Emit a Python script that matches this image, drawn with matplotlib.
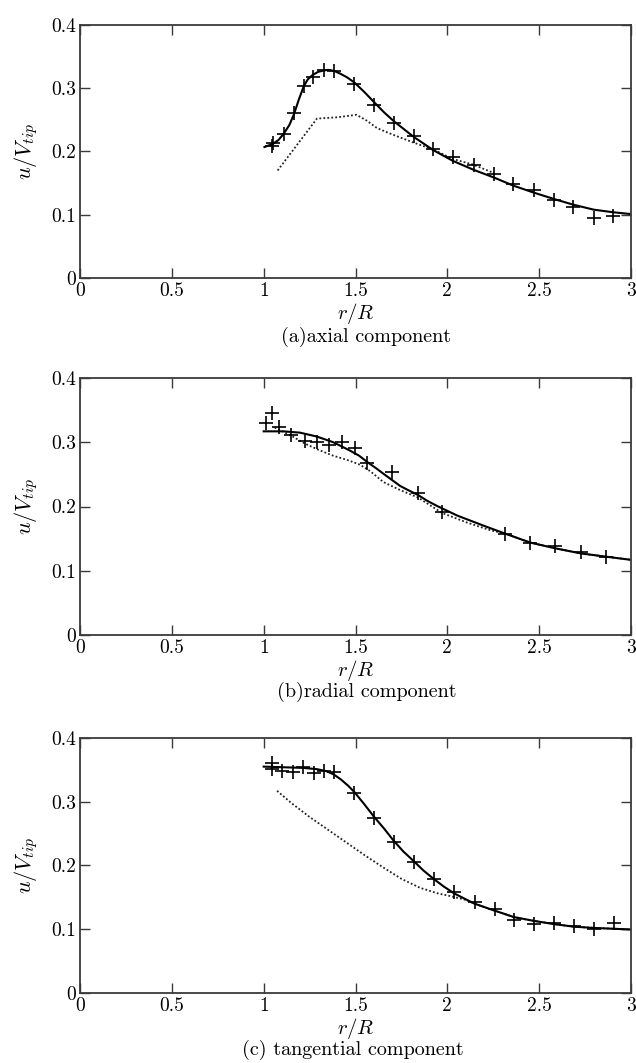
#!/usr/bin/env python3
"""Velocity profiles behind the rotor tip: axial, radial and tangential components."""

import matplotlib

matplotlib.use("Agg")
import matplotlib.pyplot as plt

plt.rcParams["font.family"] = "serif"
plt.rcParams["font.serif"] = ["cmr10"]
plt.rcParams["mathtext.fontset"] = "cm"
plt.rcParams["axes.formatter.use_mathtext"] = True

# (a) axial component
axial_exp_r = [1.045, 1.051, 1.109, 1.165, 1.218, 1.267, 1.327, 1.381, 1.494, 1.601, 1.708,
               1.817, 1.924, 2.031, 2.143, 2.252, 2.359, 2.470, 2.579, 2.684, 2.797, 2.902]
axial_exp_u = [0.209, 0.213, 0.227, 0.261, 0.303, 0.318, 0.329, 0.327, 0.307, 0.274, 0.245,
               0.225, 0.204, 0.192, 0.178, 0.164, 0.148, 0.139, 0.124, 0.112, 0.095, 0.098]
axial_calc_r = [1.004, 1.050, 1.080, 1.109, 1.140, 1.165, 1.190, 1.218, 1.240, 1.267, 1.297,
                1.327, 1.350, 1.372, 1.395, 1.417, 1.455, 1.494, 1.548, 1.601, 1.655, 1.708,
                1.817, 1.924, 2.031, 2.143, 2.252, 2.359, 2.470, 2.579, 2.684, 2.797, 2.900,
                3.000]
axial_calc_u = [0.207, 0.212, 0.218, 0.228, 0.242, 0.259, 0.281, 0.303, 0.314, 0.321, 0.326,
                0.328, 0.329, 0.328, 0.326, 0.323, 0.317, 0.309, 0.294, 0.278, 0.262, 0.248,
                0.223, 0.202, 0.185, 0.171, 0.159, 0.146, 0.135, 0.125, 0.116, 0.108, 0.104,
                0.101]
axial_model_r = [1.076, 1.290, 1.400, 1.505, 1.560, 1.617, 1.708, 1.817, 1.924, 2.031, 2.143,
                 2.252]
axial_model_u = [0.170, 0.252, 0.254, 0.258, 0.249, 0.237, 0.226, 0.214, 0.203, 0.188, 0.179,
                 0.166]

# (b) radial component
radial_exp_r = [1.015, 1.047, 1.084, 1.151, 1.224, 1.291, 1.357, 1.426, 1.497, 1.565, 1.698,
                1.840, 1.971, 2.313, 2.450, 2.587, 2.727, 2.863]
radial_exp_u = [0.330, 0.345, 0.324, 0.312, 0.302, 0.300, 0.295, 0.301, 0.291, 0.268, 0.254,
                0.221, 0.192, 0.158, 0.143, 0.138, 0.129, 0.122]
radial_calc_r = [1.000, 1.106, 1.197, 1.288, 1.379, 1.470, 1.520, 1.565, 1.610, 1.652, 1.700,
                 1.743, 1.790, 1.840, 1.890, 1.943, 2.053, 2.199, 2.313, 2.450, 2.587, 2.727,
                 2.863, 3.000]
radial_calc_u = [0.317, 0.317, 0.315, 0.309, 0.300, 0.287, 0.279, 0.269, 0.260, 0.251, 0.241,
                 0.232, 0.225, 0.218, 0.209, 0.201, 0.186, 0.170, 0.158, 0.144, 0.135, 0.127,
                 0.122, 0.117]
radial_model_r = [1.060, 1.151, 1.224, 1.300, 1.379, 1.460, 1.525, 1.580, 1.652, 1.740, 1.840,
                  1.971, 2.107, 2.235, 2.313, 2.450, 2.587, 2.727, 2.863, 3.000]
radial_model_u = [0.323, 0.310, 0.298, 0.288, 0.279, 0.272, 0.265, 0.255, 0.238, 0.226, 0.214,
                  0.190, 0.175, 0.163, 0.158, 0.144, 0.135, 0.127, 0.122, 0.117]

# (c) tangential component
tang_exp_r = [1.047, 1.047, 1.102, 1.157, 1.215, 1.273, 1.328, 1.383, 1.494, 1.599, 1.707,
              1.816, 1.925, 2.038, 2.148, 2.259, 2.362, 2.472, 2.581, 2.687, 2.796, 2.909]
tang_exp_u = [0.361, 0.351, 0.348, 0.347, 0.355, 0.345, 0.348, 0.346, 0.314, 0.274, 0.2375,
              0.206, 0.178, 0.159, 0.142, 0.131, 0.114, 0.108, 0.110, 0.105, 0.100, 0.109]
tang_calc_r = [1.000, 1.106, 1.215, 1.290, 1.340, 1.380, 1.420, 1.460, 1.494, 1.545, 1.599,
               1.655, 1.707, 1.760, 1.816, 1.870, 1.925, 1.980, 2.038, 2.148, 2.259, 2.362,
               2.472, 2.581, 2.687, 2.796, 3.000]
tang_calc_u = [0.355, 0.354, 0.353, 0.351, 0.348, 0.343, 0.335, 0.325, 0.315, 0.297, 0.277,
               0.258, 0.239, 0.222, 0.207, 0.192, 0.179, 0.167, 0.156, 0.140, 0.129, 0.119,
               0.113, 0.108, 0.104, 0.102, 0.0995]
tang_model_r = [1.073, 1.150, 1.250, 1.350, 1.450, 1.550, 1.650, 1.750, 1.850, 1.950, 2.000,
                2.100, 2.148, 2.259, 2.362, 2.472, 2.581, 2.687, 2.796, 3.000]
tang_model_u = [0.317, 0.298, 0.276, 0.256, 0.236, 0.216, 0.197, 0.179, 0.165, 0.156, 0.153,
                0.146, 0.140, 0.129, 0.119, 0.113, 0.108, 0.104, 0.102, 0.0995]

captions = ["(a)axial component", "(b)radial component", "(c) tangential component"]
x_ticks = [0, 0.5, 1, 1.5, 2, 2.5, 3]
x_ticklabels = ["0", "0.5", "1", "1.5", "2", "2.5", "3"]
y_ticks = [0, 0.1, 0.2, 0.3, 0.4]
y_ticklabels = ["0", "0.1", "0.2", "0.3", "0.4"]

panels = [
    (axial_exp_r, axial_exp_u, axial_calc_r, axial_calc_u, axial_model_r, axial_model_u),
    (radial_exp_r, radial_exp_u, radial_calc_r, radial_calc_u, radial_model_r, radial_model_u),
    (tang_exp_r, tang_exp_u, tang_calc_r, tang_calc_u, tang_model_r, tang_model_u),
]

# axes boxes in figure fractions: (left, bottom, width, height)
boxes = [
    (0.1258, 0.7385, 0.8664, 0.2380),
    (0.1258, 0.4026, 0.8664, 0.2418),
    (0.1258, 0.0659, 0.8664, 0.2399),
]
xlabel_y = [0.7055, 0.3697, 0.0329]
caption_pos = [(0.5755, 0.6830), (0.577, 0.3490), (0.555, 0.0122)]

frame_color = "#3a3a3a"

fig = plt.figure(figsize=(6.36, 10.63), dpi=100)

for box, (er, eu, cr, cu, mr, mu), xly, cap, cpos in zip(boxes, panels, xlabel_y,
                                                        captions, caption_pos):
    ax = fig.add_axes(box)
    ax.plot(mr, mu, linestyle=(0, (1, 1.2)), color="#222222", linewidth=1.3)
    ax.plot(cr, cu, linestyle="-", color="black", linewidth=1.5)
    ax.plot(er, eu, linestyle="none", marker="+", markersize=10, markeredgewidth=1.2,
            color="black")

    ax.set_xlim(0, 3)
    ax.set_ylim(0, 0.4)
    ax.set_xticks(x_ticks)
    ax.set_xticklabels(x_ticklabels)
    ax.set_yticks(y_ticks)
    ax.set_yticklabels(y_ticklabels)
    ax.tick_params(direction="in", length=7, width=1.0, color=frame_color,
                   top=True, right=True, labelsize=14)
    ax.tick_params(axis="x", pad=3)
    ax.tick_params(axis="y", pad=3)
    for sp in ax.spines.values():
        sp.set_color(frame_color)
        sp.set_linewidth(1.3)

    ax.set_ylabel(r"$u/V_{tip}$", fontsize=16, labelpad=8)
    fig.text(0.56, xly, r"$r/R$", ha="center", va="center", fontsize=15)
    fig.text(cpos[0], cpos[1], cap, ha="center", va="center", fontsize=14.5)

fig.savefig("out.png", dpi=100)
